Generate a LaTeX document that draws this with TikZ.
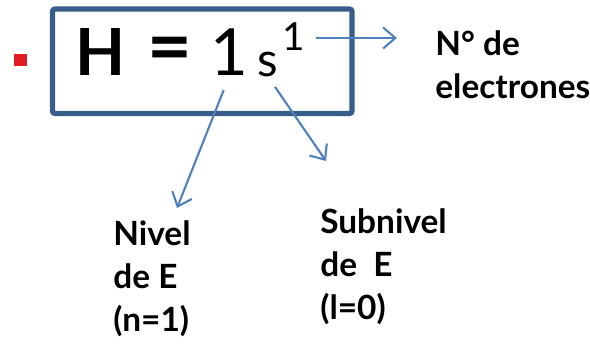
\documentclass[tikz,border=0pt]{standalone}
\usepackage{fontspec}
\setmainfont{Lato}
\usetikzlibrary{arrows.meta}

\definecolor{boxblue}{HTML}{385D8A}
\definecolor{arrowblue}{HTML}{4F81BD}
\definecolor{bulletred}{HTML}{E31B23}

\newcommand{\lblfont}{\fontsize{19}{24.4}\selectfont\bfseries}
\newcommand{\symfont}{\fontsize{37}{40}\selectfont}
\newcommand{\smallsym}{\fontsize{22}{26}\selectfont}

\tikzset{
  glyph/.style={inner sep=0pt, anchor=base},
  lbl/.style={font=\lblfont, align=left, inner sep=0pt, anchor=base west},
  link/.style={arrowblue, line width=1.2pt, -{Straight Barb[length=7pt, width=12pt]}}
}

\begin{document}
\begin{tikzpicture}[x=0.02cm, y=-0.02cm]
\useasboundingbox (0,0) rectangle (590,343);

% Draw bullet and frame
\fill[bulletred] (14,54) rectangle (27,66);
\draw[boxblue, line width=3pt, rounded corners=1.5pt] (52.5,9) rectangle (352,113.5);

% Write the configuration
\node[glyph, font=\symfont\bfseries] (H) at (101,75) {H};
\node[glyph, font=\fontsize{44}{46}\selectfont\bfseries] (eq) at (170,73) {=};
\node[glyph, font=\symfont] (one) at (229.5,75) {1};
\node[glyph, font=\fontsize{27}{30}\selectfont] (s) at (268,76) {s};
\node[glyph, font=\smallsym] (sup) at (293.5,50) {1};

% Labels (anchored on their last line)
\node[lbl] (nelec) at (435,98) {N° de\\electrones};
\node[lbl] (nivel) at (113,331) {Nivel\\de E\\(n=1)};
\node[lbl] (subnivel) at (320,319) {Subnivel\\de\ \ E\\(l=0)};

% Arrow ends
\coordinate (tipN) at (397,38);
\coordinate (tipA) at (177,208);
\coordinate (tipB) at (326,161);

% Arrows
\draw[link, shorten <=6pt] (sup.east |- tipN) -- (tipN);
\draw[link, shorten <=9pt] (one.south) -- (tipA);
\draw[link, shorten <=7pt] (s.south) -- (tipB);

\end{tikzpicture}
\end{document}
